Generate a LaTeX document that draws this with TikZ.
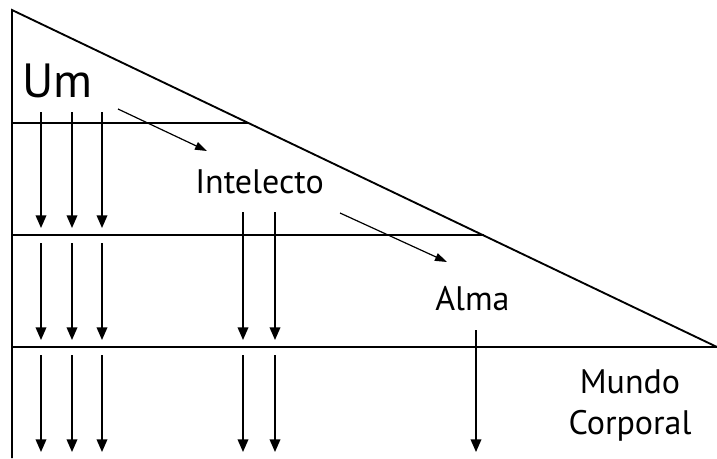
\documentclass[tikz,border=0pt]{standalone}
\usepackage{fontspec}
\setmainfont{PT Sans}
\usetikzlibrary{arrows.meta}

\begin{document}
\begin{tikzpicture}[
    x=0.75pt, y=-0.75pt,
    line/.style={line width=1.4pt},
    arr/.style={-{Triangle[length=9.5pt, width=8pt]}, line width=1.1pt},
    darr/.style={-{Triangle[length=9pt, width=6pt]}, line width=0.9pt},
    lbl/.style={font=\fontsize{25.5}{31}\selectfont, inner sep=0pt}
]
\useasboundingbox (0,0) rectangle (717,458);
% outline and levels
\coordinate (top)     at (12,10);
\coordinate (tip)     at (717,347);
\coordinate (lowleft) at (12,458);
\coordinate (lv1) at (12,123);  \coordinate (cut1) at (248,123);
\coordinate (lv2) at (12,235);  \coordinate (cut2) at (484,235);
\coordinate (lv3) at (12,347);
\draw[line] (lowleft) -- (top) -- (tip) -- (lv3);
\draw[line] (lv1) -- (cut1);
\draw[line] (lv2) -- (cut2);
% labels
\node[lbl, font=\fontsize{36}{36}\selectfont, anchor=base west] (um) at (22,97) {Um};
\node[lbl, anchor=base west] (intelecto) at (195,193) {Intelecto};
\node[lbl, anchor=base west] (alma) at (435,310) {Alma};
\node[lbl, align=center, anchor=north] (mundo) at (630,369) {Mundo\\Corporal};
% columns and rows of the arrows
\coordinate (c1) at (41,0);  \coordinate (c2) at (72,0);  \coordinate (c3) at (102,0);
\coordinate (c4) at (243,0); \coordinate (c5) at (275,0); \coordinate (c6) at (476,0);
\coordinate (s1) at (0,112); \coordinate (e1) at (0,228);
\coordinate (s2) at (0,243); \coordinate (e2) at (0,340);
\coordinate (s3) at (0,355); \coordinate (e3) at (0,452);
\coordinate (s4) at (0,212); \coordinate (s5) at (0,330);
\draw[arr] (c1 |- s1) -- (c1 |- e1); \draw[arr] (c2 |- s1) -- (c2 |- e1);
\draw[arr] (c3 |- s1) -- (c3 |- e1);
\draw[arr] (c1 |- s2) -- (c1 |- e2); \draw[arr] (c2 |- s2) -- (c2 |- e2);
\draw[arr] (c3 |- s2) -- (c3 |- e2);
\draw[arr] (c4 |- s4) -- (c4 |- e2); \draw[arr] (c5 |- s4) -- (c5 |- e2);
\draw[arr] (c1 |- s3) -- (c1 |- e3); \draw[arr] (c2 |- s3) -- (c2 |- e3);
\draw[arr] (c3 |- s3) -- (c3 |- e3);
\draw[arr] (c4 |- s3) -- (c4 |- e3); \draw[arr] (c5 |- s3) -- (c5 |- e3);
\draw[arr] (c6 |- s5) -- (c6 |- e3);
% emanation
\coordinate (d1) at (118,109); \coordinate (d2) at (207,151);
\coordinate (d3) at (340,213); \coordinate (d4) at (447,262);
\draw[darr] (d1) -- (d2);
\draw[darr] (d3) -- (d4);
\end{tikzpicture}
\end{document}
